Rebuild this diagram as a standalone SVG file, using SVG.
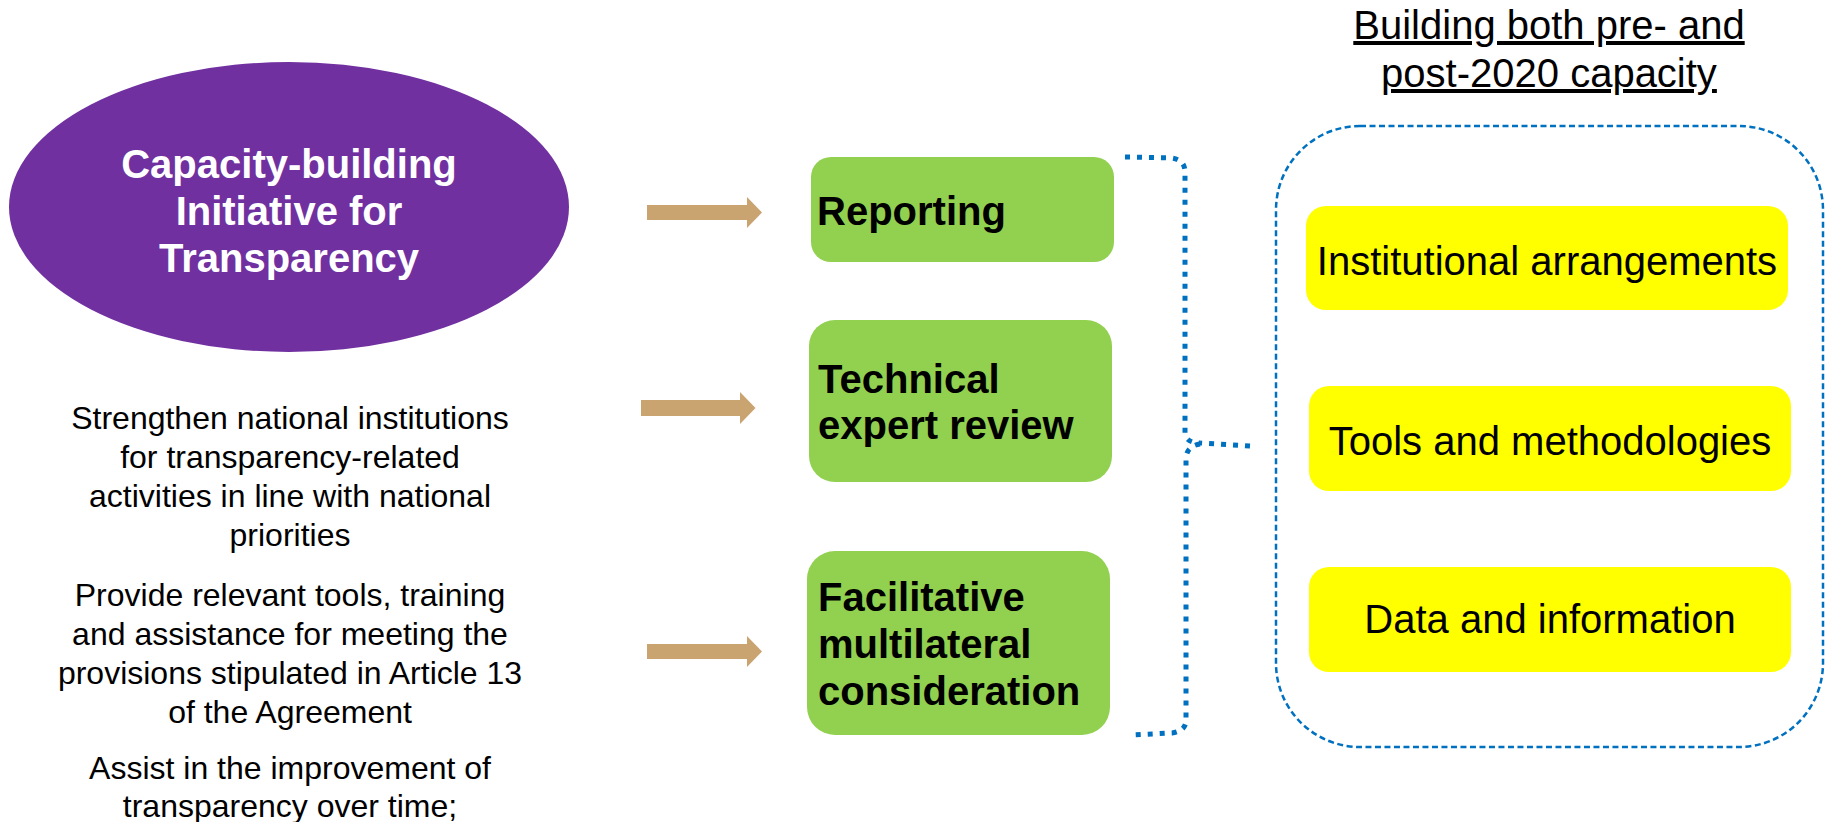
<svg xmlns="http://www.w3.org/2000/svg" width="1829" height="822" viewBox="0 0 1829 822">
<style>
.bold{font-family:"Liberation Sans",Arial,sans-serif;font-weight:bold;font-size:40px;fill:#000}
.reg{font-family:"Liberation Sans",Arial,sans-serif;font-size:40px;fill:#000}
.small{font-family:"Liberation Sans",Arial,sans-serif;font-size:32px;fill:#000;text-anchor:middle}
.green{fill:#92D050}
.yellow{fill:#FFFF00}
.arrow{fill:#C9A471}
.dot{fill:none;stroke:#0070C0;stroke-width:5;stroke-dasharray:5 7}
</style>
<rect width="1829" height="822" fill="#fff"/>
<g id="cbit">
<ellipse cx="289" cy="207" rx="280" ry="145" fill="#7030A0"/>
<text class="bold" x="289" y="178" text-anchor="middle" style="fill:#fff">Capacity-building</text>
<text class="bold" x="289" y="225" text-anchor="middle" style="fill:#fff">Initiative for</text>
<text class="bold" x="289" y="272" text-anchor="middle" style="fill:#fff">Transparency</text>
</g>
<g id="goals">
<text class="small" x="290" y="429">Strengthen national institutions</text>
<text class="small" x="290" y="468">for transparency-related</text>
<text class="small" x="290" y="507">activities in line with national</text>
<text class="small" x="290" y="546">priorities</text>
<text class="small" x="290" y="606">Provide relevant tools, training</text>
<text class="small" x="290" y="645">and assistance for meeting the</text>
<text class="small" x="290" y="684">provisions stipulated in Article 13</text>
<text class="small" x="290" y="723">of the Agreement</text>
<text class="small" x="290" y="779">Assist in the improvement of</text>
<text class="small" x="290" y="817">transparency over time;</text>
</g>
<g id="arrows">
<path class="arrow" d="M647,205 H747 V197 L762,212.5 L747,228 V220 H647 Z"/>
<path class="arrow" d="M641,400 H740 V392 L755.5,408 L740,424 V416 H641 Z"/>
<path class="arrow" d="M647,644 H747 V636 L762,651.5 L747,667 V659 H647 Z"/>
</g>
<g id="reporting">
<rect class="green" x="811" y="157" width="303" height="105" rx="20"/>
<text class="bold" x="817" y="225">Reporting</text>
</g>
<g id="ter">
<rect class="green" x="809" y="320" width="303" height="162" rx="26"/>
<text class="bold" x="818" y="393">Technical</text>
<text class="bold" x="818" y="439">expert review</text>
</g>
<g id="fmcp">
<rect class="green" x="807" y="551" width="303" height="184" rx="28"/>
<text class="bold" x="818" y="611">Facilitative</text>
<text class="bold" x="818" y="658">multilateral</text>
<text class="bold" x="818" y="705">consideration</text>
</g>
<g id="connectors">
<path class="dot" d="M1125,157 L1172,158 Q1185,160 1185,172 L1185,434 Q1187,443 1200,443"/>
<path class="dot" d="M1250,446 L1200,443"/>
<path class="dot" d="M1200,444 Q1187,446 1186,458 L1186,720 Q1186,731 1172,733 L1130,735"/>
</g>
<g id="capacity">
<text class="reg" x="1549" y="39" text-anchor="middle" text-decoration="underline">Building both pre- and</text>
<text class="reg" x="1549" y="87" text-anchor="middle" text-decoration="underline">post-2020 capacity</text>
<rect x="1276" y="126" width="547" height="621" rx="84" fill="none" stroke="#0070C0" stroke-width="2.5" stroke-dasharray="6 3.5"/>
</g>
<g id="inst">
<rect class="yellow" x="1306" y="206" width="482" height="104" rx="20"/>
<text class="reg" x="1547" y="275" text-anchor="middle">Institutional arrangements</text>
</g>
<g id="tools">
<rect class="yellow" x="1309" y="386" width="482" height="105" rx="20"/>
<text class="reg" x="1550" y="455" text-anchor="middle">Tools and methodologies</text>
</g>
<g id="data">
<rect class="yellow" x="1309" y="567" width="482" height="105" rx="20"/>
<text class="reg" x="1550" y="633" text-anchor="middle">Data and information</text>
</g>
</svg>
